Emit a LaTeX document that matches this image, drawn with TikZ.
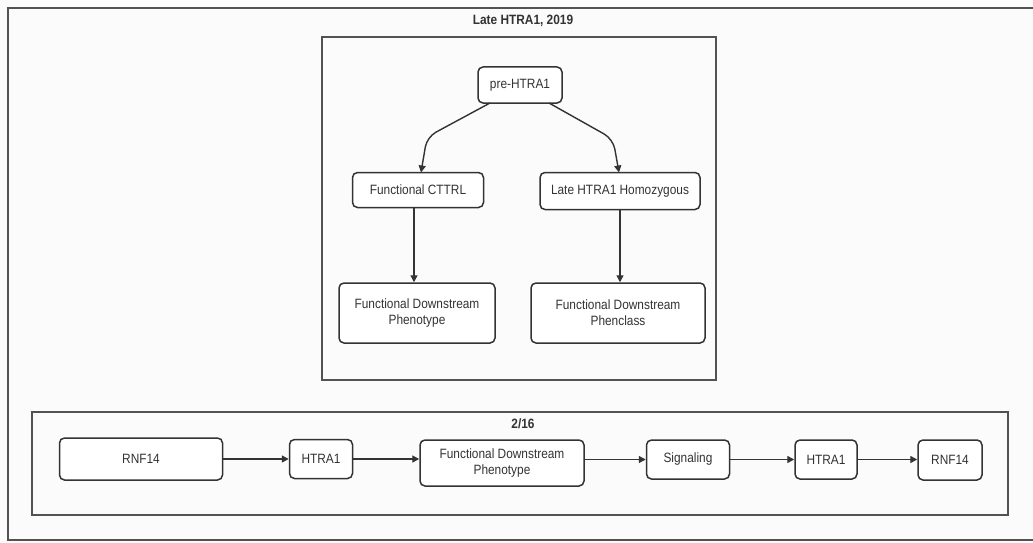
\documentclass[tikz,border=0pt]{standalone}
\usepackage{fontspec}
\setmainfont{Liberation Sans}
\usetikzlibrary{arrows.meta}
\definecolor{ink}{HTML}{333333}
\definecolor{paper}{HTML}{FBFBFB}
\begin{document}
\begin{tikzpicture}[x=1pt,y=-1pt,
  frame/.style={draw=ink!85,line width=1.8pt},
  box/.style={draw=ink,line width=1.5pt,rounded corners=5pt,fill=white,
    font=\fontsize{13.5}{16}\selectfont\addfontfeature{FakeStretch=0.88},
    text=ink,align=center,inner sep=0pt},
  ttl/.style={font=\bfseries\fontsize{13.5}{16}\selectfont\addfontfeature{FakeStretch=0.88},text=ink},
  conn/.style={draw=ink,line width=1.4pt,-{Triangle[length=7pt,width=7pt]}}]
% canvas
\fill[paper] (0,0) rectangle (1033,543);
\useasboundingbox (0,0) rectangle (1033,543);
% outer frame (right side runs past the page)
\draw[frame] (1040,8) -- (8,8) -- (8,540) -- (1040,540);
\node[ttl] (t1) at (523,21) {Late HTRA1, 2019};
% upper group
\draw[frame] (322,37) rectangle (716,380);
\node[box,minimum width=84pt,minimum height=36pt] (pre) at (520,85) {pre-HTRA1};
\node[box,minimum width=131pt,minimum height=35pt] (cttrl) at (418,190) {Functional CTTRL};
\node[box,minimum width=160pt,minimum height=37pt] (homo) at (620,191) {Late HTRA1 Homozygous};
\node[box,minimum width=156pt,minimum height=60pt] (fdp1) at (417,313) {Functional Downstream\\Phenotype};
\node[box,minimum width=174pt,minimum height=60pt] (fdc) at (618,313) {Functional Downstream\\Phenclass};
\coordinate (lb) at (427,137);
\coordinate (rb) at (613,139);
\draw[conn,rounded corners=10pt] (490,103) -- (lb) -- (421,172.5);
\draw[conn,rounded corners=10pt] (549,103) -- (rb) -- (619,172.5);
\draw[conn] (cttrl.south -| fdp1) ++(-3,0) coordinate (c1) (c1) -- (c1 |- fdp1.north);
\draw[conn] (homo.south) -- (homo.south |- fdc.north);
% lower group
\draw[frame] (32,412) rectangle (1008,515);
\node[ttl] (t2) at (523,424) {2/16};
\node[box,minimum width=163pt,minimum height=42pt] (a) at (141,459) {RNF14};
\node[box,minimum width=63pt,minimum height=39pt] (b) at (321,459) {HTRA1};
\node[box,minimum width=164pt,minimum height=46pt] (c) at (502,463) {Functional Downstream\\Phenotype};
\node[box,minimum width=83pt,minimum height=39pt] (d) at (688,459.5) {Signaling};
\node[box,minimum width=62pt,minimum height=39pt] (e) at (826,459.5) {HTRA1};
\node[box,minimum width=64pt,minimum height=40pt] (f) at (950,460) {RNF14};
\draw[conn] (a.east) -- (b.west);
\draw[conn] (b.east) -- (b.east -| c.west);
\draw[conn] (c.east |- d.west) -- (d.west);
\draw[conn] (d.east) -- (e.west);
\draw[conn] (e.east) -- (e.east -| f.west);
\end{tikzpicture}
\end{document}
